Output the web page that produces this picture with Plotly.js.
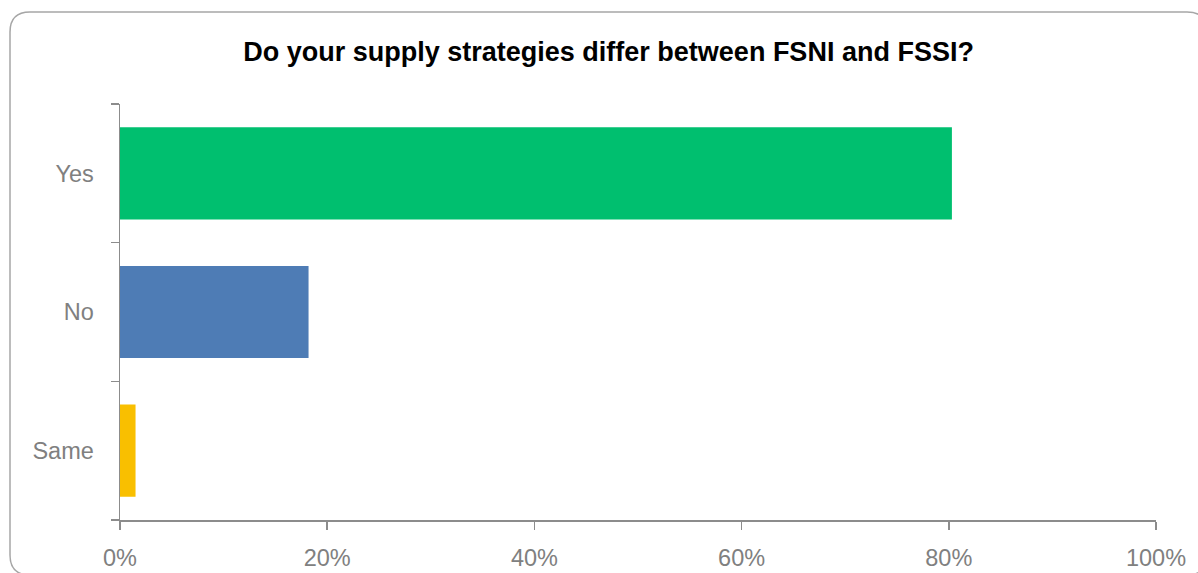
<!DOCTYPE html>
<html>
<head>
<meta charset="utf-8">
<script src="https://cdn.plot.ly/plotly-3.0.1.min.js"></script>
<style>
  html, body { margin: 0; padding: 0; background: #ffffff; }
  #chart { width: 1198px; height: 573px; }
</style>
</head>
<body>
<div id="chart"></div>
<script>
// Survey answers and their shares of respondents
const answers = ["Yes", "No", "Same"];
const shares = [0.803, 0.182, 0.015];
const barColors = ["#00BF6F", "#4E7CB5", "#F9BF00"];
const xTickValues = [0, 0.2, 0.4, 0.6, 0.8, 1.0];
const xTickLabels = ["0%", "20%", "40%", "60%", "80%", "100%"];

const W = 1198, H = 573;
const M = { l: 120, r: 42, t: 104, b: 53 };
const pw = W - M.l - M.r, ph = H - M.t - M.b;

// rounded frame around the whole chart, given in pixels and converted to paper units
function px(x) { return (x - M.l) / pw; }
function py(y) { return (H - M.b - y) / ph; }
const fr = { x0: 10, x1: 1207, y0: 12, y1: 575, r: 20 };
const rx = fr.r / pw, ry = fr.r / ph;
const L = px(fr.x0), R = px(fr.x1), T = py(fr.y0), B = py(fr.y1);
const framePath =
  `M ${L + rx},${T} L ${R - rx},${T} Q ${R},${T} ${R},${T - ry} ` +
  `L ${R},${B + ry} Q ${R},${B} ${R - rx},${B} ` +
  `L ${L + rx},${B} Q ${L},${B} ${L},${B + ry} ` +
  `L ${L},${T - ry} Q ${L},${T} ${L + rx},${T} Z`;

const labelFont = { family: "Liberation Sans, Arial, sans-serif", size: 23.5, color: "#808080" };

const trace = {
  type: "bar",
  orientation: "h",
  y: answers,
  x: shares,
  width: 0.665,
  marker: { color: barColors, line: { width: 0 } },
  hoverinfo: "skip"
};

const layout = {
  width: W,
  height: H,
  margin: M,
  paper_bgcolor: "#ffffff",
  plot_bgcolor: "#ffffff",
  showlegend: false,
  title: {
    text: "<b>Do your supply strategies differ between FSNI and FSSI?</b>",
    font: { family: "Liberation Sans, Arial, sans-serif", size: 27, color: "#000000" },
    x: 0.508,
    xanchor: "center",
    y: 0.91,
    yanchor: "middle"
  },
  xaxis: {
    range: [0, 1],
    tickvals: xTickValues,
    ticktext: xTickLabels,
    showgrid: false,
    zeroline: false,
    showline: true,
    linecolor: "#8c8c8c",
    linewidth: 1.5,
    ticks: "outside",
    ticklen: 8,
    tickwidth: 1.5,
    tickcolor: "#8c8c8c",
    ticklabelstandoff: 8,
    tickfont: labelFont,
    fixedrange: true
  },
  yaxis: {
    type: "category",
    categoryorder: "array",
    categoryarray: answers.slice().reverse(),
    range: [-0.5, 2.5],
    showgrid: false,
    zeroline: false,
    showline: true,
    linecolor: "#8c8c8c",
    linewidth: 1.5,
    ticks: "outside",
    tickson: "boundaries",
    ticklen: 8,
    tickwidth: 1.5,
    tickcolor: "#8c8c8c",
    ticklabelstandoff: 20,
    tickfont: labelFont,
    fixedrange: true
  },
  shapes: [{
    type: "path",
    xref: "paper",
    yref: "paper",
    path: framePath,
    line: { color: "#a6a6a6", width: 1.5 },
    fillcolor: "rgba(0,0,0,0)",
    layer: "below"
  }]
};

Plotly.newPlot("chart", [trace], layout, { displayModeBar: false, staticPlot: true });
</script>
</body>
</html>
